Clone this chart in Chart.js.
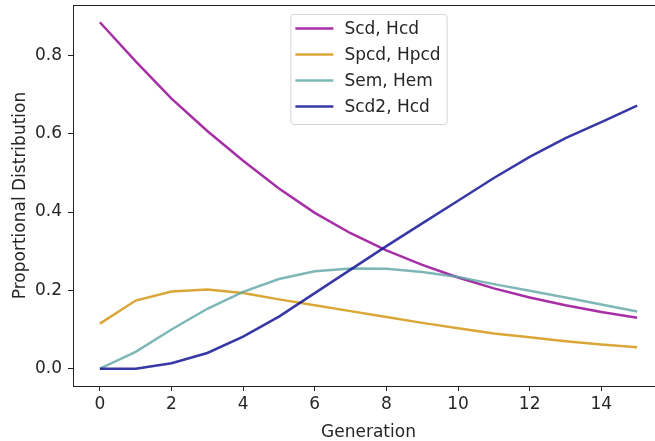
<!DOCTYPE html>
<html>
<head>
<meta charset="utf-8">
<script src="https://cdn.jsdelivr.net/npm/chart.js@4.4.1/dist/chart.umd.min.js"></script>
<style>
  html, body { margin: 0; padding: 0; background: #fff; overflow: hidden; }
  #wrap { width: 655px; height: 441px; overflow: hidden; }
</style>
</head>
<body>
<div id="wrap"><canvas id="chart" width="680" height="441"></canvas></div>
<script>
// ---- data ----
const generations = [0, 1, 2, 3, 4, 5, 6, 7, 8, 9, 10, 11, 12, 13, 14, 15];
const scdHcd   = [0.885, 0.785, 0.690, 0.607, 0.531, 0.460, 0.398, 0.346, 0.302, 0.265, 0.233, 0.205, 0.182, 0.162, 0.145, 0.130];
const spcdHpcd = [0.115, 0.174, 0.197, 0.202, 0.193, 0.177, 0.162, 0.147, 0.132, 0.117, 0.103, 0.090, 0.080, 0.070, 0.062, 0.055];
const semHem   = [0.000, 0.043, 0.100, 0.153, 0.196, 0.229, 0.249, 0.256, 0.255, 0.247, 0.234, 0.216, 0.199, 0.182, 0.164, 0.146];
const scd2Hcd  = [0.000, 0.000, 0.014, 0.040, 0.082, 0.133, 0.193, 0.253, 0.313, 0.371, 0.429, 0.487, 0.541, 0.589, 0.630, 0.672];

const seriesLabels = ['Scd, Hcd', 'Spcd, Hpcd', 'Sem, Hem', 'Scd2, Hcd'];
const seriesColors = ['rgba(150,10,150,0.85)', 'rgba(210,150,20,0.85)', 'rgba(95,165,165,0.8)', 'rgba(20,20,150,0.85)'];

const xTicks = [0, 2, 4, 6, 8, 10, 12, 14];
const yTicks = [0.0, 0.2, 0.4, 0.6, 0.8];

const FONT = '"DejaVu Sans", sans-serif';
const FONT_SIZE = 17;
const TEXT = '#262626';

/* =========================
   FRAME + LEGEND PLUGINS
========================= */
const frame = {
  id: 'frame',
  afterDatasetsDraw(chart) {
    const { ctx, chartArea: a } = chart;
    ctx.save();
    ctx.strokeStyle = '#222';
    ctx.lineWidth = 1;
    ctx.strokeRect(Math.round(a.left) + 0.5, Math.round(a.top) + 0.5,
                   Math.round(a.right - a.left), Math.round(a.bottom - a.top));
    ctx.restore();
  }
};

const boxLegend = {
  id: 'boxLegend',
  afterDraw(chart) {
    const { ctx, chartArea: a } = chart;
    const sets = chart.data.datasets;
    ctx.save();
    ctx.font = FONT_SIZE + 'px ' + FONT;
    const textW = Math.max(...sets.map(d => ctx.measureText(d.label).width));
    const pad = 5, handle = 38, gap = 11, rowH = 26;
    const w = pad + handle + gap + textW + pad + 1;
    const h = rowH * sets.length + 6;
    const left = (a.left + a.right) / 2 - w / 2;
    const top = a.top + 9;

    ctx.beginPath();
    ctx.roundRect(left + 0.5, top + 0.5, w, h, 3);
    ctx.fillStyle = 'rgba(255,255,255,0.8)';
    ctx.fill();
    ctx.strokeStyle = 'rgba(204,204,204,0.8)';
    ctx.lineWidth = 1;
    ctx.stroke();

    ctx.textBaseline = 'middle';
    ctx.textAlign = 'left';
    sets.forEach((d, i) => {
      const cy = top + 14.5 + i * rowH;
      ctx.beginPath();
      ctx.moveTo(left + pad, cy);
      ctx.lineTo(left + pad + handle, cy);
      ctx.strokeStyle = d.borderColor;
      ctx.lineWidth = d.borderWidth;
      ctx.stroke();
      ctx.fillStyle = TEXT;
      ctx.fillText(d.label, left + pad + handle + gap, cy + 1);
    });
    ctx.restore();
  }
};

/* =========================
   CHART
========================= */
const allSeries = [scdHcd, spcdHpcd, semHem, scd2Hcd];

const datasets = allSeries.map((vals, i) => ({
  label: seriesLabels[i],
  data: generations.map((g, j) => ({ x: g, y: vals[j] })),
  borderColor: seriesColors[i],
  backgroundColor: seriesColors[i],
  borderWidth: 2.5,
  pointRadius: 0,
  tension: 0,
  fill: false,
  order: allSeries.length - 1 - i   // later series on top, like matplotlib
}));

const axisCommon = {
  grid: { display: true, drawOnChartArea: false, drawTicks: true, tickLength: 5, color: '#222' },
  border: { display: false },
};

new Chart(document.getElementById('chart'), {
  type: 'line',
  data: { datasets },
  options: {
    responsive: false,
    animation: false,
    devicePixelRatio: 1,
    layout: { padding: { left: 0, right: 16, top: 5, bottom: 0 } },
    plugins: {
      legend: { display: false },
      tooltip: { enabled: false }
    },
    scales: {
      x: {
        ...axisCommon,
        type: 'linear',
        min: -0.75,
        max: 15.75,
        afterBuildTicks: s => { s.ticks = xTicks.map(v => ({ value: v })); },
        afterFit: s => { s.height = 55; s.paddingLeft = 0; s.paddingRight = 0; },
        ticks: {
          padding: 3,
          color: TEXT,
          font: { family: FONT, size: FONT_SIZE },
          maxRotation: 0,
          callback: v => String(v)
        },
        title: {
          display: true,
          text: 'Generation',
          color: TEXT,
          font: { family: FONT, size: FONT_SIZE, lineHeight: 1 },
          padding: { top: 0, bottom: 0 }
        }
      },
      y: {
        ...axisCommon,
        type: 'linear',
        min: -0.0443,
        max: 0.929,
        afterBuildTicks: s => { s.ticks = yTicks.map(v => ({ value: v })); },
        afterFit: s => { s.width = 73; s.paddingTop = 0; s.paddingBottom = 0; },
        ticks: {
          padding: 6,
          color: TEXT,
          font: { family: FONT, size: FONT_SIZE },
          callback: v => v.toFixed(1)
        },
        title: {
          display: true,
          text: 'Proportional Distribution',
          color: TEXT,
          font: { family: FONT, size: FONT_SIZE, lineHeight: 1.2 },
          padding: { top: 10, bottom: 0 }
        }
      }
    }
  },
  plugins: [frame, boxLegend]
});
</script>
</body>
</html>
